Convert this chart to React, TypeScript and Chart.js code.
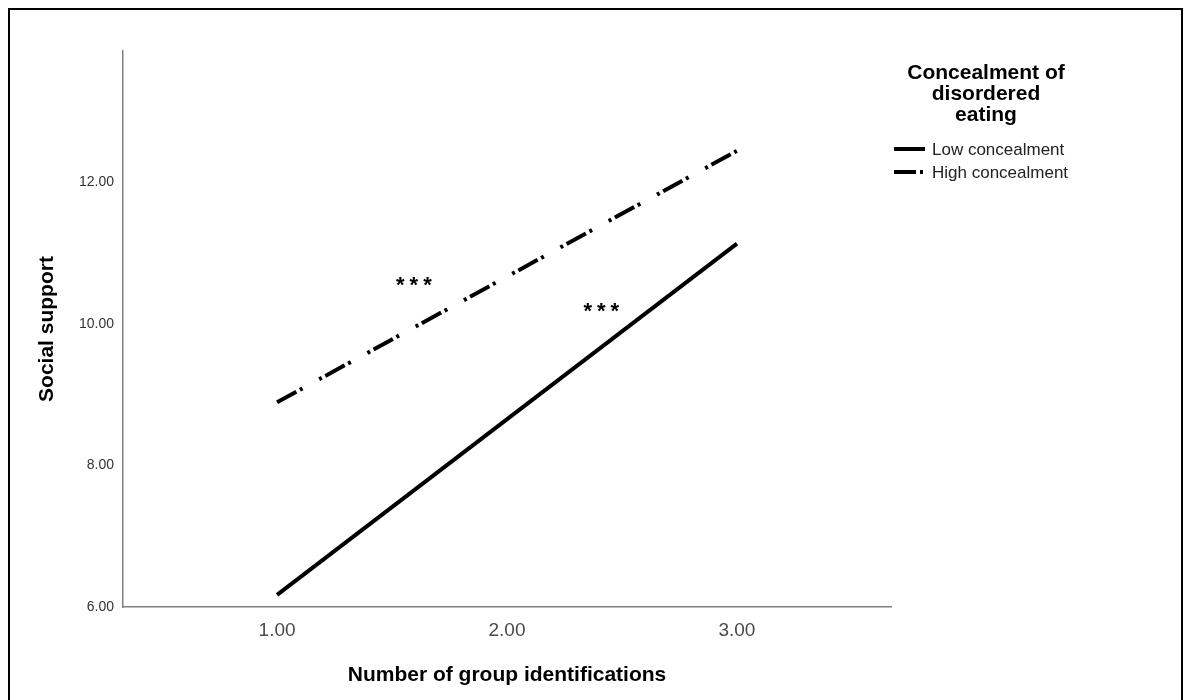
import React, { useEffect, useRef } from "react";
import { Chart, registerables } from "chart.js";

Chart.register(...registerables);

// ---- data ----
const xValues = [1, 3]; // Number of group identifications (low / high)
const lowConcealment = [6.17, 11.13];
const highConcealment = [8.89, 12.44];
const seriesNames = ["Low concealment", "High concealment"];
const xTicks = [1, 2, 3];
const yTicks = [6, 8, 10, 12];
const xRange = [0.33, 3.67];
const yRange = [6, 13.85];
const legendTitleLines = ["Concealment of", "disordered", "eating"];
const annotationLabel = "***";
const annotationX = [1.595, 2.41];
const annotationY = [10.62, 10.25];
const xTitle = "Number of group identifications";
const yTitle = "Social support";

const FONT = "Arial, 'Liberation Sans', sans-serif";
const HIGH_DASH = [22, 4, 3, 19, 3, 4];

const overlayPlugin = {
  id: "overlay",
  afterDraw(chart: any) {
    const ctx = chart.ctx as CanvasRenderingContext2D;
    const xs = chart.scales.x;
    const ys = chart.scales.y;
    ctx.save();

    // outer frame
    ctx.strokeStyle = "#000";
    ctx.lineWidth = 2;
    ctx.strokeRect(9, 9, 1173, 700);

    // significance annotations
    ctx.fillStyle = "#000";
    ctx.font = `bold 22px ${FONT}`;
    ctx.textAlign = "center";
    ctx.textBaseline = "alphabetic";
    (ctx as any).letterSpacing = "5px";
    annotationX.forEach((ax, i) => {
      const px = xs.getPixelForValue(ax);
      const py = ys.getPixelForValue(annotationY[i]);
      ctx.fillText(annotationLabel, px + 2.5, py + 12);
    });
    (ctx as any).letterSpacing = "0px";

    // legend title
    ctx.font = `bold 21px ${FONT}`;
    ctx.textBaseline = "middle";
    ctx.textAlign = "center";
    const titleYs = [73, 94, 115];
    legendTitleLines.forEach((line, i) => ctx.fillText(line, 986, titleYs[i]));

    // legend items
    const itemYs = [149, 172];
    ctx.font = `17px ${FONT}`;
    ctx.textAlign = "left";
    seriesNames.forEach((name, i) => {
      const y = itemYs[i];
      ctx.strokeStyle = "#000";
      ctx.lineWidth = 4;
      ctx.lineCap = "butt";
      ctx.setLineDash(i === 1 ? HIGH_DASH : []);
      ctx.beginPath();
      ctx.moveTo(894, y);
      ctx.lineTo(925, y);
      ctx.stroke();
      ctx.setLineDash([]);
      ctx.fillStyle = "#222";
      ctx.fillText(name, 932, y + 1);
    });

    ctx.restore();
  },
};

export default function App() {
  const canvasRef = useRef<HTMLCanvasElement | null>(null);

  useEffect(() => {
    const canvas = canvasRef.current;
    if (!canvas) return;
    const chart = new Chart(canvas, {
      type: "line",
      data: {
        datasets: [
          {
            label: seriesNames[0],
            data: xValues.map((x, i) => ({ x, y: lowConcealment[i] })),
            borderColor: "#000",
            borderWidth: 4,
            borderCapStyle: "butt",
            pointRadius: 0,
            tension: 0,
          },
          {
            label: seriesNames[1],
            data: xValues.map((x, i) => ({ x, y: highConcealment[i] })),
            borderColor: "#000",
            borderWidth: 4,
            borderCapStyle: "butt",
            borderDash: HIGH_DASH,
            pointRadius: 0,
            tension: 0,
          },
        ],
      },
      options: {
        responsive: false,
        animation: false,
        layout: { padding: { top: 51, right: 301, left: 0, bottom: 0 } },
        plugins: {
          legend: { display: false },
          title: { display: false },
          tooltip: { enabled: false },
        },
        scales: {
          x: {
            type: "linear",
            min: xRange[0],
            max: xRange[1],
            afterBuildTicks: (scale: any) => {
              scale.ticks = xTicks.map((v) => ({ value: v }));
            },
            afterFit: (scale: any) => {
              scale.height = 93;
            },
            grid: { display: false, drawTicks: false },
            border: { display: true, color: "#808080", width: 1.5 },
            ticks: {
              padding: 12,
              color: "#4a4a4a",
              font: { family: FONT, size: 19 },
              callback: (v: any) => Number(v).toFixed(2),
            },
            title: {
              display: true,
              text: xTitle,
              color: "#000",
              font: { family: FONT, size: 21, weight: "bold" },
              padding: { top: 0, bottom: 12 },
            },
          },
          y: {
            type: "linear",
            min: yRange[0],
            max: yRange[1],
            afterBuildTicks: (scale: any) => {
              scale.ticks = yTicks.map((v) => ({ value: v }));
            },
            afterFit: (scale: any) => {
              scale.width = 123;
            },
            grid: { display: false, drawTicks: false },
            border: { display: true, color: "#808080", width: 1.5 },
            ticks: {
              padding: 9,
              color: "#333",
              font: { family: FONT, size: 14 },
              callback: (v: any) => Number(v).toFixed(2),
            },
            title: {
              display: true,
              text: yTitle,
              color: "#000",
              font: { family: FONT, size: 21, weight: "bold" },
              padding: { top: 35, bottom: 0 },
            },
          },
        },
      },
      plugins: [overlayPlugin],
    } as any);
    return () => chart.destroy();
  }, []);

  return (
    <div style={{ position: "absolute", left: 0, top: 0, width: 1192, height: 700, background: "#fff" }}>
      <canvas ref={canvasRef} width={1192} height={700} style={{ display: "block" }} />
    </div>
  );
}
